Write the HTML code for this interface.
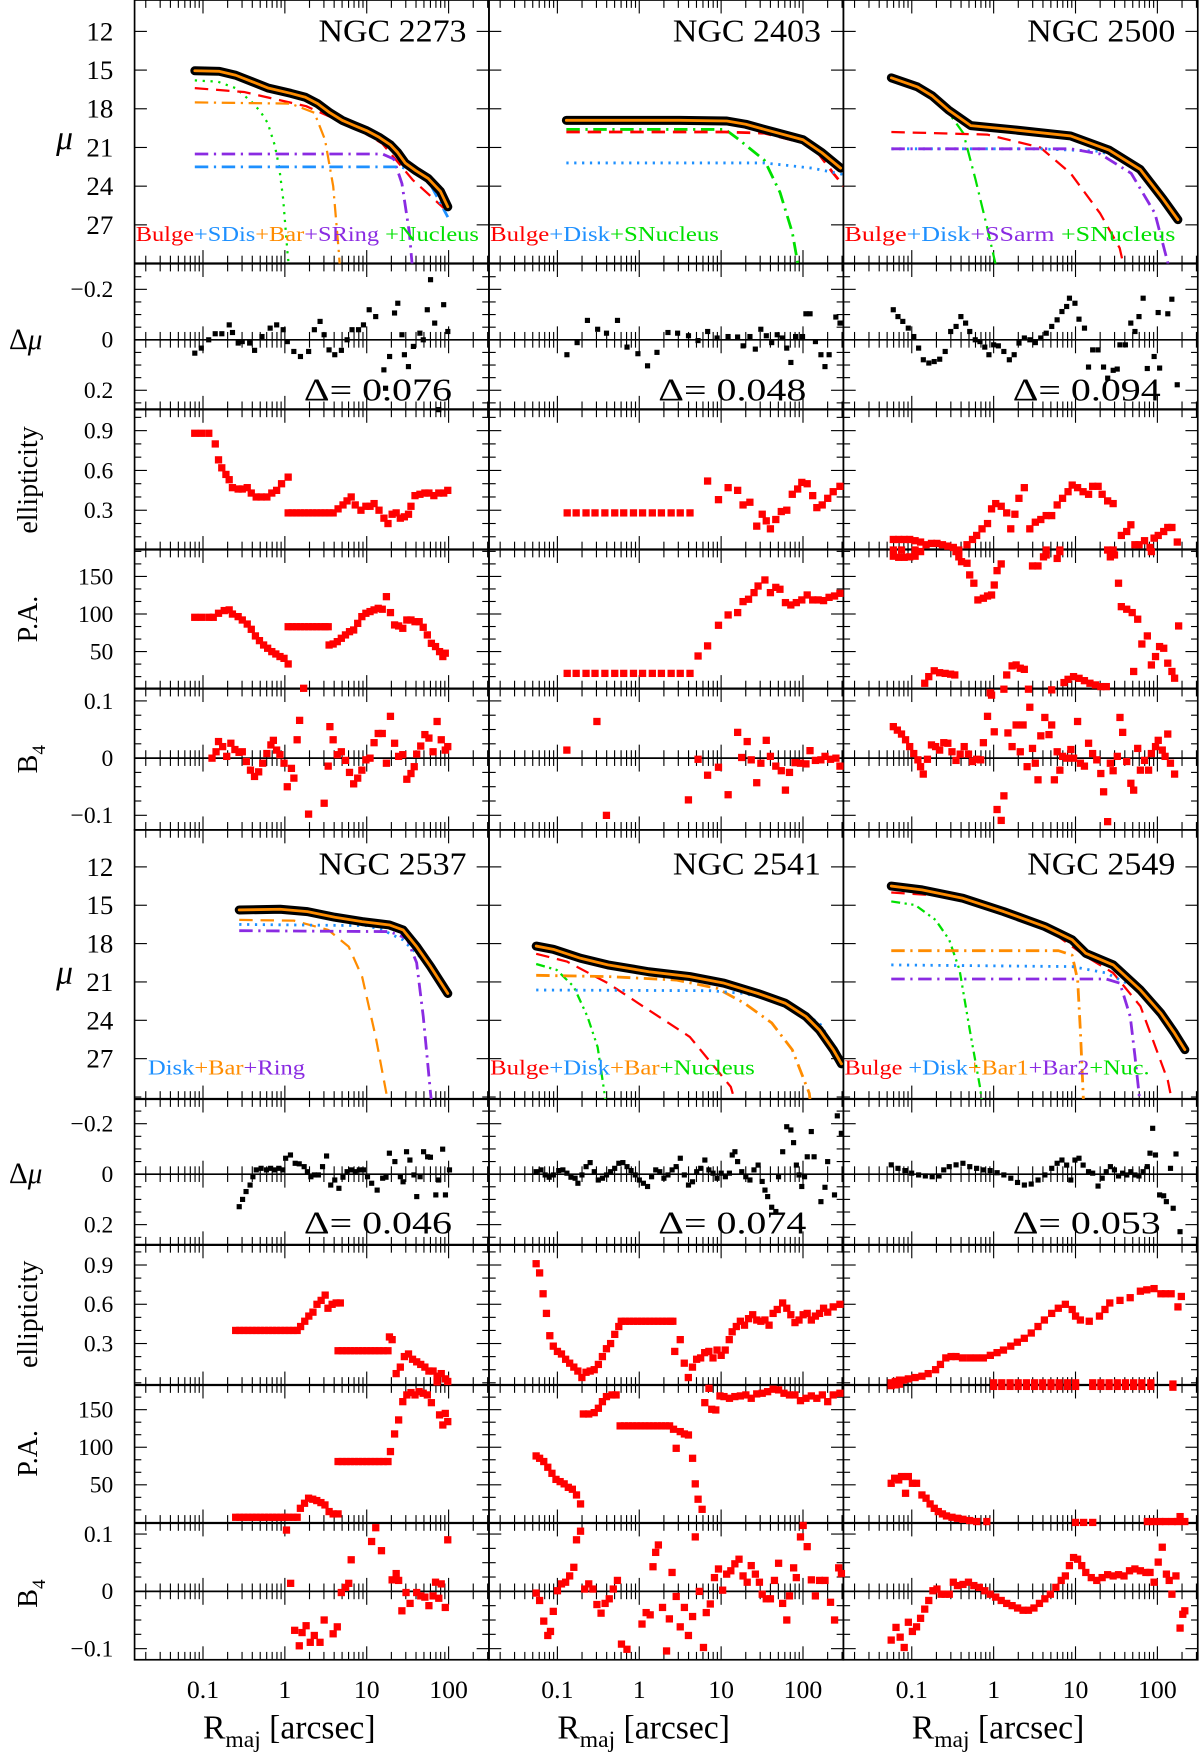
<!DOCTYPE html>
<html><head><meta charset="utf-8"><title>Galaxy surface brightness profiles</title>
<style>
html,body{margin:0;padding:0;background:#fff;}
svg{display:block;}
text{font-family:"Liberation Serif",serif;fill:#000;}
</style></head>
<body>
<svg id="fig" xmlns="http://www.w3.org/2000/svg" width="1200" height="1758" viewBox="0 0 1070 1567.6" preserveAspectRatio="none">
<rect x="0" y="0" width="1070" height="1567.6" fill="#fff"/>
<g id="axes"></g>
<g id="marks"></g>
<g id="labels">
  <text x="50" y="133" font-size="30" font-style="italic">μ</text>
  <text x="50" y="877" font-size="30" font-style="italic">μ</text>
  <text x="8" y="311" font-size="26">Δ<tspan font-style="italic">μ</tspan></text>
  <text x="8" y="1055" font-size="26">Δ<tspan font-style="italic">μ</tspan></text>
  <text transform="translate(33,428) rotate(-90)" text-anchor="middle" font-size="25">ellipticity</text>
  <text transform="translate(33,1172) rotate(-90)" text-anchor="middle" font-size="25">ellipticity</text>
  <text transform="translate(33,552) rotate(-90)" text-anchor="middle" font-size="25">P.A.</text>
  <text transform="translate(33,1296) rotate(-90)" text-anchor="middle" font-size="25">P.A.</text>
  <text transform="translate(33,677) rotate(-90)" text-anchor="middle" font-size="25">B<tspan dy="7" font-size="17">4</tspan></text>
  <text transform="translate(33,1421) rotate(-90)" text-anchor="middle" font-size="25">B<tspan dy="7" font-size="17">4</tspan></text>
  <text x="181" y="1550" font-size="30">R<tspan dy="8" font-size="21">maj</tspan><tspan dy="-8"> [arcsec]</tspan></text>
  <text x="497" y="1550" font-size="30">R<tspan dy="8" font-size="21">maj</tspan><tspan dy="-8"> [arcsec]</tspan></text>
  <text x="813" y="1550" font-size="30">R<tspan dy="8" font-size="21">maj</tspan><tspan dy="-8"> [arcsec]</tspan></text>
</g>
</svg>
<script>
// ---------------- data (logR = log10 R[arcsec]) ----------------
const galaxyNames = ["NGC 2273","NGC 2403","NGC 2500","NGC 2537","NGC 2541","NGC 2549"];
const deltaValues = ["0.076","0.048","0.094","0.046","0.074","0.053"];
const muTicks = [12,15,18,21,24,27];
const dmuTicks = [-0.2,0,0.2];
const ellTicks = [0.9,0.6,0.3];
const paTicks = [150,100,50];
const b4Ticks = [0.1,0,-0.1];
const xTickLabels = ["0.1","1","10","100"];
const xTickValues = [-1,0,1,2];

// surface brightness profiles & components
const prof2273 = [[-1.10,15.05],[-0.8,15.1],[-0.6,15.4],[-0.4,15.9],[-0.2,16.4],[0.07,16.8],[0.25,17.1],[0.4,17.6],[0.55,18.3],[0.7,18.9],[0.85,19.3],[1.0,19.7],[1.15,20.2],[1.29,20.8],[1.38,21.4],[1.47,22.2],[1.6,22.8],[1.75,23.4],[1.9,24.4],[1.99,25.6]];
const nuc2273 = [[-1.10,15.8],[-0.82,15.9],[-0.60,16.4],[-0.40,17.5],[-0.30,18.2],[-0.21,19.1],[-0.125,20.8],[-0.07,22.5],[-0.02,25],[0.03,29],[0.06,31]];
const bulge2273 = [[-1.10,16.4],[-0.5,16.7],[0.26,17.8],[0.90,19.6],[1.19,20.7],[1.56,23.5],[1.94,25.7]];
const bar2273 = [[-1.10,17.5],[0.07,17.6],[0.36,18.3],[0.49,20.4],[0.59,24],[0.66,29.2],[0.68,31]];
const ring2273 = [[-1.10,21.5],[1.19,21.5],[1.33,21.9],[1.43,23.8],[1.52,27.6],[1.56,30.5]];
const disk2273 = [[-1.10,22.5],[1.4,22.5],[1.61,22.8],[1.79,24],[1.99,26.4]];

const prof2403 = [[-0.89,18.9],[0.5,18.9],[1.07,18.95],[1.3,19.2],[1.53,19.6],[2.0,20.4],[2.23,21.4],[2.46,22.6]];
const nuc2403 = [[-0.89,19.6],[1.05,19.6],[1.2,20.3],[1.53,22],[1.72,24.5],[1.87,27.6],[1.95,30.5]];
const bulge2403 = [[-0.89,19.8],[1.05,19.8],[1.53,19.9],[2.11,20.8],[2.37,23],[2.5,24]];
const disk2403 = [[-0.89,22.2],[1.53,22.2],[2.11,22.6],[2.5,23.1]];

const prof2500 = [[-1.25,15.6],[-0.93,16.3],[-0.75,17.0],[-0.55,18.1],[-0.28,19.3],[0.2,19.6],[0.94,20.1],[1.41,21.2],[1.79,22.7],[2.07,25],[2.25,26.6]];
const nuc2500 = [[-1.25,15.7],[-0.93,16.4],[-0.55,18.3],[-0.37,19.9],[-0.22,23.5],[-0.08,27.2],[0.04,30.5]];
const bulge2500 = [[-1.25,19.8],[-0.08,20],[0.57,21],[0.94,23],[1.30,26.1],[1.54,28.8],[1.6,30.5]];
const arm2500 = [[-1.25,21.1],[0.94,21.1],[1.30,21.5],[1.68,23],[1.97,26.1],[2.15,30.5]];
const disk2500 = [[-1.25,21.1],[0.57,21.1],[1.30,21.3],[1.68,22.2],[1.97,23.9],[2.25,26.5]];

const prof2537 = [[-0.558,15.37],[-0.057,15.32],[0.276,15.5],[0.61,15.94],[0.944,16.28],[1.277,16.54],[1.444,16.93],[1.61,18.24],[1.78,19.8],[1.99,21.9]];
const bar2537 = [[-0.558,16.15],[0.11,16.2],[0.53,16.93],[0.78,18.24],[0.944,20.6],[1.11,25.3],[1.24,29.7],[1.26,31]];
const disk2537 = [[-0.558,16.5],[1.0,16.6],[1.19,16.93],[1.44,17.7],[1.69,19.3],[1.99,21.6]];
const ring2537 = [[-0.558,16.99],[1.28,17.06],[1.49,17.6],[1.61,19.5],[1.69,23.7],[1.78,29.7],[1.8,31]];

const prof2541 = [[-1.259,18.19],[-1.05,18.45],[-0.717,19.15],[-0.383,19.67],[0.117,20.2],[0.618,20.58],[1.035,21.1],[1.45,21.9],[1.785,22.67],[2.035,23.7],[2.2,24.75],[2.37,26.3],[2.47,27.4]];
const bulge2541 = [[-1.259,18.8],[-0.884,19.4],[-0.383,21.1],[0.117,23.2],[0.618,25.3],[1.118,29.2],[1.2,31]];
const nuc2541 = [[-1.259,19.6],[-1.008,20.06],[-0.80,21.37],[-0.633,23.7],[-0.508,26.1],[-0.425,29.7],[-0.4,31]];
const bar2541 = [[-1.259,20.48],[-0.383,20.58],[0.451,20.85],[0.951,21.5],[1.285,22.67],[1.618,24.2],[1.869,26.3],[2.077,29.7],[2.1,31]];
const disk2541 = [[-1.259,21.63],[0.868,21.68],[1.285,21.9],[1.785,22.67],[2.2,24.2],[2.45,26.8]];

const prof2549 = [[-1.251,13.5],[-0.876,13.8],[-0.375,14.46],[0.125,15.5],[0.626,16.67],[0.959,17.7],[1.126,18.76],[1.46,19.67],[1.793,21.63],[2.043,23.45],[2.21,25.0],[2.335,26.3]];
const bulge2549 = [[-1.251,14.0],[-0.542,14.3],[0.292,15.9],[0.792,17.46],[1.126,19.0],[1.46,20.3],[1.793,22.9],[2.127,28.7],[2.2,31]];
const nuc2549 = [[-1.251,14.7],[-0.959,14.98],[-0.709,16.15],[-0.542,17.7],[-0.417,20.06],[-0.292,24.75],[-0.167,29.2],[-0.13,31]];
const bar1_2549 = [[-1.251,18.55],[0.792,18.55],[0.959,18.9],[1.026,20.85],[1.059,24.75],[1.093,29.7],[1.1,31]];
const disk2549 = [[-1.251,19.67],[0.959,19.8],[1.376,20.3],[1.71,21.37],[1.96,22.67],[2.21,24.75],[2.335,26]];
const bar2_2549 = [[-1.251,20.77],[1.376,20.77],[1.543,21.1],[1.668,23.7],[1.726,26.8],[1.776,29.7],[1.79,31]];

// residuals Δμ
const dmu2273 = [[-1.10,0.053],[-1.02,0.033],[-0.93,0],[-0.85,-0.024],[-0.77,-0.024],[-0.68,-0.059],[-0.64,-0.029],[-0.57,0.013],[-0.52,0.007],[-0.43,0.013],[-0.37,0.042],[-0.28,-0.013],[-0.18,-0.046],[-0.10,-0.059],[-0.02,-0.040],[0.03,0.007],[0.11,0.046],[0.19,0.066],[0.29,0.046],[0.36,-0.040],[0.43,-0.073],[0.48,-0.020],[0.54,0.040],[0.61,0.059],[0.69,0.042],[0.76,0],[0.82,-0.040],[0.90,-0.040],[0.96,-0.059],[1.03,-0.119],[1.11,-0.092],[1.21,0.119],[1.23,0.192],[1.28,0.066],[1.34,-0.106],[1.38,-0.145],[1.43,-0.020],[1.46,0.059],[1.51,0.106],[1.57,0.026],[1.65,-0.026],[1.69,0],[1.74,-0.119],[1.78,-0.238],[1.83,-0.066],[1.88,0.277],[1.94,-0.139],[1.99,-0.033]];
const dmu2403 = [[-0.884,0.059],[-0.759,0.011],[-0.633,-0.077],[-0.508,-0.042],[-0.400,-0.026],[-0.266,-0.077],[-0.150,0.029],[-0.016,0.055],[0.101,0.103],[0.217,0.050],[0.351,-0.029],[0.468,-0.026],[0.601,-0.016],[0.718,0.003],[0.835,-0.033],[0.951,-0.007],[1.085,-0.013],[1.202,-0.011],[1.268,0.024],[1.352,-0.013],[1.418,0.037],[1.485,-0.042],[1.552,-0.016],[1.618,0.011],[1.685,-0.020],[1.744,-0.007],[1.802,0.033],[1.852,0.090],[1.910,-0.013],[1.994,-0.013],[2.036,-0.103],[2.086,-0.103],[2.152,0.007],[2.219,0.059],[2.269,0.106],[2.319,0.059],[2.402,-0.090],[2.452,-0.066]];
const dmu2500 = [[-1.226,-0.119],[-1.168,-0.092],[-1.109,-0.073],[-1.042,-0.046],[-0.976,-0.013],[-0.917,0.033],[-0.859,0.079],[-0.792,0.092],[-0.726,0.086],[-0.659,0.077],[-0.592,0.046],[-0.525,-0.033],[-0.459,-0.053],[-0.400,-0.092],[-0.342,-0.066],[-0.292,-0.033],[-0.225,0],[-0.167,0.007],[-0.108,0.029],[-0.058,0.059],[0.000,0.020],[0.058,0.024],[0.125,0.046],[0.192,0.079],[0.250,0.059],[0.309,0.013],[0.375,-0.007],[0.442,0],[0.509,0.011],[0.576,-0.007],[0.642,-0.026],[0.709,-0.053],[0.776,-0.079],[0.834,-0.112],[0.892,-0.132],[0.926,-0.165],[0.993,-0.145],[1.043,-0.082],[1.109,-0.046],[1.159,0.108],[1.209,0.040],[1.276,0.040],[1.343,0.108],[1.393,0.152],[1.460,0.121],[1.510,0.116],[1.543,0.020],[1.610,0.020],[1.676,-0.066],[1.726,-0.033],[1.776,-0.092],[1.826,-0.165],[1.877,0.114],[1.960,0.066],[2.010,-0.108],[2.027,0.112],[2.127,-0.103],[2.177,-0.161],[2.243,0.178]];
const dmu2537 = [[-0.558,0.129],[-0.516,0.100],[-0.474,0.069],[-0.424,0.043],[-0.391,0.010],[-0.349,-0.017],[-0.291,-0.023],[-0.224,-0.017],[-0.174,-0.023],[-0.124,-0.017],[-0.074,-0.023],[-0.024,-0.017],[0.010,-0.063],[0.068,-0.076],[0.126,-0.043],[0.176,-0.041],[0.235,-0.030],[0.276,-0.010],[0.318,0.010],[0.360,0.003],[0.410,0.003],[0.460,-0.030],[0.510,-0.072],[0.560,0.043],[0.610,0.023],[0.660,0.056],[0.710,0.012],[0.760,-0.010],[0.810,-0.017],[0.860,-0.010],[0.910,-0.017],[0.960,-0.017],[1.010,0.010],[1.060,0.036],[1.127,0.063],[1.194,0.016],[1.235,0.012],[1.277,-0.083],[1.344,-0.050],[1.411,0.010],[1.444,0.030],[1.486,-0.089],[1.527,-0.056],[1.577,0.003],[1.611,0.089],[1.652,0.010],[1.694,-0.089],[1.744,-0.069],[1.778,-0.067],[1.844,0.082],[1.878,0.023],[1.928,-0.099],[1.961,0.082],[2.011,-0.017]];
const dmu2541 = [[-1.259,-0.010],[-1.200,-0.017],[-1.150,0.003],[-1.100,0.012],[-1.050,0.003],[-0.983,-0.014],[-0.933,-0.017],[-0.884,-0.004],[-0.834,0.012],[-0.783,0.016],[-0.750,0.036],[-0.700,0.003],[-0.650,-0.030],[-0.600,-0.046],[-0.550,-0.010],[-0.500,0.023],[-0.450,0.016],[-0.400,0.003],[-0.350,-0.010],[-0.300,-0.023],[-0.250,-0.043],[-0.200,-0.046],[-0.150,-0.030],[-0.100,-0.014],[-0.049,0.003],[0.001,0.023],[0.051,0.036],[0.101,0.049],[0.151,0.010],[0.201,-0.017],[0.251,-0.010],[0.301,0.016],[0.351,0.003],[0.401,-0.017],[0.451,-0.030],[0.501,-0.063],[0.551,0.003],[0.601,0.043],[0.651,0.030],[0.701,-0.010],[0.751,-0.023],[0.801,-0.056],[0.851,-0.017],[0.901,-0.004],[0.951,0.016],[1.001,-0.004],[1.052,0.010],[1.102,-0.004],[1.135,-0.076],[1.168,-0.089],[1.202,-0.050],[1.252,-0.010],[1.302,0.010],[1.352,0.023],[1.402,-0.017],[1.452,-0.036],[1.502,0.029],[1.535,0.063],[1.568,0.089],[1.618,0.131],[1.668,0.148],[1.702,0.010],[1.752,-0.089],[1.802,-0.188],[1.852,-0.175],[1.885,-0.125],[1.919,-0.036],[1.952,0.003],[1.985,0.049],[2.019,0.010],[2.052,-0.069],[2.102,-0.169],[2.136,-0.069],[2.219,0.109],[2.269,0.052],[2.302,-0.050],[2.385,0.082],[2.419,-0.231],[2.469,-0.162]];
const dmu2549 = [[-1.251,-0.037],[-1.168,-0.023],[-1.084,-0.014],[-1.001,-0.004],[-0.917,0.003],[-0.834,0.007],[-0.751,0.010],[-0.667,0.007],[-0.609,-0.017],[-0.542,-0.030],[-0.459,-0.037],[-0.375,-0.043],[-0.292,-0.030],[-0.208,-0.023],[-0.125,-0.017],[-0.042,-0.014],[0.042,-0.006],[0.125,0.003],[0.209,0.016],[0.292,0.033],[0.375,0.043],[0.459,0.039],[0.542,0.023],[0.626,0.003],[0.709,-0.023],[0.776,-0.043],[0.834,-0.056],[0.892,-0.036],[0.943,0.023],[0.993,-0.056],[1.043,-0.063],[1.093,-0.036],[1.159,-0.010],[1.209,-0.004],[1.276,0.047],[1.326,0.016],[1.376,-0.010],[1.426,-0.030],[1.476,-0.017],[1.526,0.007],[1.576,-0.004],[1.626,0.003],[1.676,-0.010],[1.726,0.003],[1.776,0.007],[1.826,-0.010],[1.877,-0.030],[1.910,-0.083],[1.943,-0.182],[1.977,-0.076],[2.027,0.082],[2.077,0.086],[2.110,0.109],[2.160,-0.023],[2.193,0.135],[2.227,-0.080],[2.277,0.228]];

// ellipticity
const ell2273 = [[-1.10,0.88],[-1.02,0.88],[-0.93,0.88],[-0.85,0.80],[-0.81,0.68],[-0.77,0.62],[-0.72,0.57],[-0.68,0.53],[-0.64,0.47],[-0.57,0.46],[-0.52,0.46],[-0.46,0.47],[-0.41,0.43],[-0.35,0.40],[-0.29,0.40],[-0.22,0.40],[-0.16,0.43],[-0.10,0.45],[-0.04,0.50],[0.04,0.55],[0.04,0.28],[0.09,0.28],[0.14,0.28],[0.19,0.28],[0.24,0.28],[0.29,0.28],[0.34,0.28],[0.39,0.28],[0.44,0.28],[0.49,0.28],[0.54,0.28],[0.59,0.28],[0.65,0.31],[0.71,0.34],[0.76,0.37],[0.81,0.40],[0.86,0.34],[0.93,0.30],[0.99,0.33],[1.04,0.33],[1.09,0.35],[1.15,0.30],[1.21,0.24],[1.26,0.20],[1.31,0.27],[1.36,0.28],[1.41,0.24],[1.46,0.25],[1.51,0.27],[1.54,0.33],[1.59,0.41],[1.65,0.42],[1.71,0.43],[1.76,0.43],[1.82,0.41],[1.88,0.43],[1.94,0.43],[1.99,0.45]];
const ell2403 = [[-0.88,0.28],[-0.77,0.28],[-0.65,0.28],[-0.54,0.28],[-0.42,0.28],[-0.30,0.28],[-0.19,0.28],[-0.07,0.28],[0.04,0.28],[0.16,0.28],[0.27,0.28],[0.39,0.28],[0.50,0.28],[0.62,0.28],[0.835,0.52],[0.968,0.38],[1.085,0.47],[1.202,0.45],[1.268,0.34],[1.352,0.36],[1.435,0.18],[1.502,0.27],[1.552,0.22],[1.602,0.16],[1.668,0.23],[1.735,0.29],[1.802,0.30],[1.869,0.42],[1.935,0.46],[1.985,0.51],[2.052,0.50],[2.119,0.41],[2.169,0.32],[2.235,0.34],[2.302,0.39],[2.369,0.44],[2.452,0.48]];
const ell2500 = [[-1.226,0.08],[-1.159,0.08],[-1.093,0.08],[-1.026,0.08],[-0.959,0.07],[-0.892,0.06],[-0.826,0.04],[-0.759,0.05],[-0.692,0.05],[-0.625,0.04],[-0.559,0.03],[-0.492,0.02],[-0.425,0.00],[-0.325,0.04],[-0.258,0.08],[-0.208,0.11],[-0.142,0.16],[-0.075,0.20],[-0.025,0.31],[0.025,0.35],[0.092,0.33],[0.159,0.28],[0.209,0.16],[0.259,0.27],[0.309,0.39],[0.375,0.47],[0.442,0.16],[0.509,0.21],[0.576,0.23],[0.642,0.26],[0.709,0.26],[0.776,0.34],[0.842,0.39],[0.909,0.44],[0.959,0.49],[1.026,0.47],[1.093,0.44],[1.159,0.42],[1.209,0.48],[1.276,0.48],[1.326,0.42],[1.393,0.37],[1.460,0.35],[1.560,0.11],[1.626,0.14],[1.676,0.19],[1.726,0.04],[1.776,0.04],[1.843,0.07],[1.910,0.02],[1.960,0.09],[2.010,0.11],[2.077,0.14],[2.127,0.17],[2.177,0.17],[2.243,0.06],[-1.226,0.0],[-1.126,0.0],[-0.959,0.0],[0.642,0.0],[0.809,0.0],[1.393,0.0],[1.460,0.0]];
const ell2537 = [[-0.60,0.40],[-0.55,0.40],[-0.50,0.40],[-0.45,0.40],[-0.40,0.40],[-0.35,0.40],[-0.30,0.40],[-0.25,0.40],[-0.20,0.40],[-0.15,0.40],[-0.10,0.40],[-0.05,0.40],[0.0,0.40],[0.05,0.40],[0.10,0.40],[0.15,0.40],[0.192,0.43],[0.243,0.47],[0.293,0.51],[0.343,0.54],[0.393,0.60],[0.443,0.63],[0.493,0.67],[0.527,0.57],[0.577,0.60],[0.627,0.61],[0.677,0.61],[0.65,0.245],[0.70,0.245],[0.75,0.245],[0.80,0.245],[0.85,0.245],[0.90,0.245],[0.95,0.245],[1.00,0.245],[1.05,0.245],[1.10,0.245],[1.15,0.245],[1.20,0.245],[1.26,0.245],[1.277,0.35],[1.31,0.33],[1.36,0.07],[1.41,0.12],[1.46,0.20],[1.51,0.22],[1.56,0.18],[1.61,0.16],[1.66,0.14],[1.71,0.12],[1.76,0.09],[1.81,0.09],[1.86,0.05],[1.91,0.07],[1.96,0.03],[1.99,0.01]];
const ell2541 = [[-1.259,0.91],[-1.217,0.84],[-1.175,0.68],[-1.133,0.53],[-1.092,0.36],[-1.05,0.28],[-1.0,0.24],[-0.95,0.22],[-0.9,0.18],[-0.85,0.15],[-0.80,0.12],[-0.75,0.09],[-0.70,0.04],[-0.65,0.08],[-0.60,0.09],[-0.55,0.10],[-0.50,0.14],[-0.45,0.20],[-0.40,0.26],[-0.35,0.30],[-0.30,0.37],[-0.25,0.43],[-0.22,0.47],[-0.17,0.47],[-0.12,0.47],[-0.07,0.47],[-0.02,0.47],[0.03,0.47],[0.08,0.47],[0.13,0.47],[0.18,0.47],[0.23,0.47],[0.28,0.47],[0.33,0.47],[0.38,0.47],[0.41,0.47],[0.434,0.24],[0.50,0.33],[0.55,0.15],[0.60,0.04],[0.65,0.12],[0.70,0.18],[0.75,0.19],[0.80,0.23],[0.85,0.24],[0.90,0.19],[0.95,0.25],[1.0,0.21],[1.05,0.25],[1.10,0.33],[1.135,0.39],[1.185,0.43],[1.235,0.47],[1.285,0.44],[1.335,0.49],[1.385,0.52],[1.435,0.48],[1.485,0.47],[1.535,0.48],[1.585,0.44],[1.635,0.53],[1.685,0.56],[1.752,0.61],[1.802,0.57],[1.852,0.52],[1.902,0.46],[1.952,0.48],[2.002,0.52],[2.052,0.53],[2.102,0.48],[2.152,0.51],[2.202,0.53],[2.252,0.57],[2.302,0.54],[2.369,0.58],[2.452,0.60]];
const ell2549 = [[-1.251,0.0],[-1.2,0.01],[-1.15,0.02],[-1.1,0.02],[-1.042,0.03],[-0.96,0.04],[-0.876,0.05],[-0.8,0.07],[-0.709,0.10],[-0.65,0.14],[-0.584,0.19],[-0.52,0.20],[-0.459,0.20],[-0.38,0.19],[-0.292,0.19],[-0.21,0.19],[-0.125,0.19],[-0.04,0.21],[0.042,0.23],[0.12,0.25],[0.209,0.28],[0.29,0.31],[0.375,0.34],[0.46,0.38],[0.542,0.43],[0.62,0.48],[0.709,0.53],[0.79,0.57],[0.876,0.60],[0.959,0.56],[1.0,0.51],[1.059,0.48],[1.168,0.47],[1.293,0.51],[1.36,0.56],[1.418,0.61],[1.543,0.63],[1.668,0.65],[1.793,0.70],[1.87,0.71],[1.96,0.72],[2.043,0.68],[2.1,0.68],[2.168,0.68],[2.252,0.58],[2.293,0.66],[0.0,0.0],[0.1,0.0],[0.2,0.0],[0.3,0.0],[0.4,0.0],[0.5,0.0],[0.6,0.0],[0.7,0.0],[0.8,0.0],[0.9,0.0],[1.0,0.0],[1.21,0.0],[1.31,0.0],[1.41,0.0],[1.51,0.0],[1.61,0.0],[1.71,0.0],[1.81,0.0],[1.92,0.0],[2.19,-0.01]];

// position angle
const pa2273 = [[-1.10,95.6],[-1.02,95.6],[-0.93,95.6],[-0.875,95.6],[-0.81,101],[-0.74,104.5],[-0.68,105.4],[-0.64,100],[-0.57,96.5],[-0.52,92],[-0.46,86.7],[-0.41,79.6],[-0.36,70.8],[-0.31,64.6],[-0.26,58.8],[-0.21,54.4],[-0.16,50],[-0.11,46.8],[-0.06,43.3],[-0.01,41],[0.04,33.5],[0.23,1.1],[0.04,83],[0.09,83],[0.14,83],[0.19,83],[0.24,83],[0.29,83],[0.34,83],[0.39,83],[0.44,83],[0.49,83],[0.53,83],[0.54,58.8],[0.59,60.1],[0.64,63.2],[0.69,67.7],[0.74,72.1],[0.79,76.5],[0.84,78.8],[0.89,87.6],[0.94,96.5],[0.99,101],[1.04,103.2],[1.09,105.4],[1.14,107.6],[1.19,106.3],[1.24,123.1],[1.29,101.8],[1.34,85.4],[1.39,84.1],[1.44,81],[1.49,92],[1.54,92],[1.59,89.8],[1.64,89.8],[1.69,82.3],[1.74,72.1],[1.79,61],[1.84,56.6],[1.89,50],[1.93,43.3],[1.96,47.9]];
const pa2403 = [[-0.88,21],[-0.77,21],[-0.65,21],[-0.54,21],[-0.42,21],[-0.30,21],[-0.19,21],[-0.07,21],[0.04,21],[0.16,21],[0.27,21],[0.39,21],[0.50,21],[0.62,21],[0.718,44.1],[0.835,57.5],[0.968,85],[1.085,98.7],[1.202,101.8],[1.268,116.5],[1.335,119.6],[1.402,128.4],[1.452,137.3],[1.535,145.3],[1.602,128.4],[1.668,135.5],[1.718,132.9],[1.785,115.1],[1.852,112],[1.919,115.1],[1.985,118.7],[2.052,125.3],[2.119,118.7],[2.185,118.7],[2.252,117.8],[2.319,122.2],[2.385,124],[2.452,127.6]];
const pa2500 = [[-1.226,177],[-1.159,175.5],[-1.093,175.5],[-1.026,176],[-0.959,177],[-0.892,183],[-0.842,7.8],[-0.792,16.6],[-0.726,24.4],[-0.659,21.8],[-0.592,20.9],[-0.525,20],[-0.475,18.9],[-0.459,183],[-0.425,176],[-0.392,169.7],[-0.325,167.5],[-0.292,152],[-0.242,141],[-0.192,118.7],[-0.125,121],[-0.075,124],[-0.025,125.3],[0.008,138.6],[0.042,157.7],[0.092,166.6],[-0.042,-5],[0.125,0],[0.159,18.9],[0.225,30.9],[0.275,32.2],[0.325,27.8],[0.375,26.4],[0.425,0],[0.475,164],[0.542,164],[0.609,176],[0.642,178.6],[0.709,-1],[0.776,174],[0.809,183],[0.859,8.7],[0.909,13.1],[0.976,16.6],[1.043,14.4],[1.109,11.3],[1.176,7.8],[1.243,5.6],[1.309,3.4],[1.376,3.4],[1.426,176],[1.476,178.6],[1.526,141],[1.560,109.8],[1.626,106.3],[1.693,101.8],[1.760,93],[1.810,60],[1.877,70.8],[1.710,23.5],[1.927,32.2],[1.977,43.3],[2.027,56.6],[2.077,54.4],[2.127,34.6],[2.177,23.5],[2.210,14.5],[2.260,84.1],[1.927,183]];
const pa2537 = [[-0.60,6.8],[-0.55,6.8],[-0.50,6.8],[-0.45,6.8],[-0.40,6.8],[-0.35,6.8],[-0.30,6.8],[-0.25,6.8],[-0.20,6.8],[-0.15,6.8],[-0.10,6.8],[-0.05,6.8],[0.0,6.8],[0.05,6.8],[0.10,6.8],[0.15,6.8],[0.19,18.8],[0.24,25.5],[0.29,32.1],[0.34,30.8],[0.39,29],[0.44,26.3],[0.49,23.2],[0.54,14.4],[0.59,11.2],[0.65,11.2],[0.65,80.9],[0.70,80.9],[0.75,80.9],[0.80,80.9],[0.85,80.9],[0.90,80.9],[0.95,80.9],[1.00,80.9],[1.05,80.9],[1.10,80.9],[1.15,80.9],[1.20,80.9],[1.26,80.9],[1.29,94.2],[1.34,117.7],[1.39,136.3],[1.44,160.7],[1.49,169.6],[1.54,172.7],[1.59,169.6],[1.64,174],[1.69,171.8],[1.74,169.6],[1.79,159.4],[1.89,143],[1.93,129.6],[1.96,145],[1.99,134.1],[1.86,187]];
const pa2541 = [[-1.259,88.4],[-1.217,85.3],[-1.167,80.9],[-1.117,73.3],[-1.067,65.3],[-1.017,57.3],[-0.967,54.3],[-0.917,51.2],[-0.867,46.7],[-0.817,44.1],[-0.767,36.5],[-0.717,24.5],[-0.683,144.3],[-0.617,144.3],[-0.55,146.1],[-0.50,151.9],[-0.45,160.7],[-0.40,167.4],[-0.333,169.6],[-0.283,169.6],[-0.233,128.4],[-0.18,128.4],[-0.13,128.4],[-0.08,128.4],[-0.03,128.4],[0.02,128.4],[0.07,128.4],[0.12,128.4],[0.17,128.4],[0.22,128.4],[0.27,128.4],[0.32,128.4],[0.37,128.4],[0.418,123.9],[0.451,98.6],[0.501,120.8],[0.551,117.7],[0.601,116.4],[0.651,85.3],[0.684,51.2],[0.718,30.8],[0.768,17.4],[0.801,159.4],[0.851,178.5],[0.885,150.5],[0.935,149.7],[0.985,168.3],[1.035,167.4],[1.102,165.2],[1.168,167.4],[1.235,168.3],[1.302,169.6],[1.368,165.2],[1.435,171],[1.502,171.8],[1.568,174],[1.635,177.2],[1.702,176.3],[1.768,171.8],[1.835,169.6],[1.902,169.6],[1.969,162],[2.036,165.2],[2.102,168.3],[2.169,165.2],[2.236,169.6],[2.302,160.7],[2.369,169.6],[2.452,171.8]];
const pa2549 = [[-1.251,52],[-1.209,58.7],[-1.159,56.5],[-1.126,60.9],[-1.076,38.7],[-1.042,60.9],[-0.992,52],[-0.942,52],[-0.876,36.5],[-0.826,32.1],[-0.776,24.5],[-0.726,18.8],[-0.676,14.4],[-0.626,11.2],[-0.576,8.6],[-0.509,6.8],[-0.442,5.5],[-0.375,4.1],[-0.292,2.4],[-0.208,1.1],[-0.083,1.1],[1.0,0],[1.1,0],[1.21,0],[1.877,1.1],[1.95,1.1],[2.03,1.1],[2.1,1.1],[2.18,1.1],[2.25,1.1],[2.335,1.1],[2.277,7.7],[-1.251,182],[-1.2,183],[-1.15,184],[0.0,181],[0.1,181],[0.2,181],[0.3,181],[0.4,181],[0.5,181],[0.6,181],[0.7,181],[0.8,181],[0.9,181],[1.0,181],[1.21,181],[1.31,181],[1.41,181],[1.51,181],[1.61,181],[1.71,181],[1.81,181],[1.92,181],[2.19,180]];

// B4
const b42273 = [[-0.89,0],[-0.84,0.011],[-0.81,0.029],[-0.76,0.020],[-0.71,0.003],[-0.66,0.026],[-0.61,0.015],[-0.56,0.010],[-0.52,0.011],[-0.47,-0.006],[-0.42,-0.021],[-0.37,-0.032],[-0.32,-0.024],[-0.27,-0.009],[-0.22,0.008],[-0.17,0.023],[-0.14,0.031],[-0.10,0.014],[-0.06,0.006],[-0.01,-0.009],[0.03,-0.050],[0.08,-0.018],[0.11,-0.035],[0.15,0.032],[0.18,0.066],[0.29,-0.098],[0.48,-0.079],[0.53,-0.014],[0.55,0.055],[0.59,0.032],[0.64,0.006],[0.69,0.011],[0.74,-0.004],[0.79,-0.025],[0.84,-0.045],[0.89,-0.035],[0.94,-0.021],[0.99,-0.003],[1.04,0],[1.09,0.027],[1.14,0.043],[1.19,0.043],[1.24,-0.009],[1.29,0.073],[1.34,0.026],[1.39,0.003],[1.44,0.006],[1.49,-0.037],[1.54,-0.027],[1.58,-0.015],[1.61,0.007],[1.66,0.021],[1.71,0.041],[1.76,0.035],[1.81,0.011],[1.86,0.064],[1.91,0.032],[1.96,0.014],[1.99,0.020]];
const b42403 = [[-0.884,0.014],[-0.517,0.064],[-0.400,-0.10],[0.601,-0.073],[0.718,-0.002],[0.835,-0.030],[0.968,-0.016],[1.085,-0.064],[1.202,0.045],[1.252,0.001],[1.318,0.029],[1.368,-0.003],[1.435,-0.043],[1.485,-0.009],[1.552,0.031],[1.602,0.003],[1.668,-0.014],[1.735,-0.022],[1.785,-0.056],[1.835,-0.025],[1.902,-0.008],[1.969,-0.009],[2.036,-0.010],[2.086,0.013],[2.152,-0.004],[2.219,-0.003],[2.269,0.003],[2.336,-0.002],[2.402,0],[2.452,-0.014]];
const b42500 = [[-1.226,0.055],[-1.176,0.049],[-1.126,0.042],[-1.076,0.032],[-1.026,0.020],[-0.976,0.008],[-0.926,-0.003],[-0.892,-0.015],[-0.859,-0.028],[-0.809,-0.002],[-0.759,0.023],[-0.709,0.020],[-0.659,0.014],[-0.609,0.027],[-0.559,0.026],[-0.509,0.011],[-0.459,-0.004],[-0.409,0.007],[-0.359,0.020],[-0.308,0.007],[-0.258,-0.006],[-0.208,-0.002],[-0.158,-0.003],[-0.125,0.027],[-0.075,0.073],[-0.025,0.110],[0.008,0.046],[0.042,-0.09],[0.092,-0.109],[0.125,-0.066],[0.175,0.044],[0.225,0.020],[0.275,0.058],[0.325,0.011],[0.359,0.058],[0.409,-0.015],[0.442,0.089],[0.475,0.017],[0.509,-0.009],[0.542,-0.038],[0.576,0.039],[0.626,0.071],[0.676,0.041],[0.709,0.058],[0.742,-0.038],[0.776,0.011],[0.809,-0.021],[0.842,0.003],[0.892,0],[0.943,0.015],[0.976,0],[1.026,0.064],[1.059,-0.009],[1.109,-0.014],[1.159,0.026],[1.209,0.008],[1.259,-0.003],[1.309,-0.027],[1.343,-0.059],[1.393,-0.111],[1.426,-0.009],[1.460,-0.022],[1.510,0.003],[1.543,0.071],[1.576,0.045],[1.626,-0.006],[1.676,-0.044],[1.710,-0.056],[1.760,0.017],[1.793,-0.021],[1.843,-0.004],[1.893,-0.021],[1.927,0.008],[1.977,0.020],[2.010,0.031],[2.060,0.014],[2.094,0.003],[2.127,0.042],[2.160,-0.009],[2.210,-0.028]];
const b42537 = [[0.02,0.107],[0.07,0.014],[0.12,-0.068],[0.176,-0.095],[0.21,-0.072],[0.26,-0.060],[0.31,-0.089],[0.36,-0.077],[0.43,-0.089],[0.48,-0.050],[0.59,-0.074],[0.64,-0.062],[0.69,-0.002],[0.74,0.007],[0.78,0.014],[0.81,0.055],[1.06,0.087],[1.11,0.111],[1.18,0.071],[1.31,0.020],[1.36,0.031],[1.39,0.019],[1.43,-0.034],[1.48,-0.002],[1.53,-0.021],[1.61,-0.002],[1.66,-0.008],[1.71,-0.010],[1.76,-0.025],[1.81,-0.008],[1.84,0.016],[1.88,-0.012],[1.91,0.013],[1.96,-0.028],[1.99,0.090]];
const b42541 = [[-1.259,-0.003],[-1.217,-0.016],[-1.167,-0.052],[-1.117,-0.077],[-1.084,-0.070],[-1.05,-0.035],[-1.0,0.001],[-0.95,0.013],[-0.90,0.016],[-0.85,0.027],[-0.80,0.042],[-0.767,0.090],[-0.717,0.105],[-0.667,0.004],[-0.617,0.013],[-0.567,0.004],[-0.517,-0.023],[-0.467,-0.038],[-0.417,-0.021],[-0.367,-0.013],[-0.317,0.004],[-0.267,0.019],[-0.217,-0.092],[-0.15,-0.101],[0.034,-0.057],[0.084,-0.037],[0.134,-0.041],[0.168,0.043],[0.201,0.068],[0.234,0.081],[0.284,-0.028],[0.334,-0.104],[0.368,-0.048],[0.401,0.033],[0.451,-0.009],[0.501,-0.062],[0.551,-0.028],[0.601,-0.077],[0.651,-0.044],[0.684,0.095],[0.734,0],[0.784,-0.098],[0.818,-0.037],[0.868,-0.022],[0.918,0.024],[0.968,0.039],[1.018,0.002],[1.068,0.030],[1.118,0.036],[1.168,0.048],[1.218,0.056],[1.268,0.027],[1.318,0.016],[1.368,0.045],[1.418,0.030],[1.468,0.016],[1.502,-0.005],[1.552,-0.013],[1.602,-0.013],[1.652,0.019],[1.702,0.049],[1.752,-0.021],[1.802,-0.050],[1.835,-0.008],[1.885,0.041],[1.919,0.024],[1.969,0.095],[2.002,0.115],[2.052,0.078],[2.102,0.020],[2.152,-0.008],[2.202,0.019],[2.269,0.019],[2.336,-0.019],[2.386,-0.050],[2.436,0.041],[2.469,0.031]];
const b42549 = [[-1.251,-0.085],[-1.193,-0.063],[-1.142,-0.080],[-1.092,-0.098],[-1.042,-0.054],[-0.992,-0.070],[-0.942,-0.062],[-0.892,-0.047],[-0.842,-0.031],[-0.792,-0.016],[-0.742,0.001],[-0.692,0.004],[-0.642,-0.005],[-0.592,-0.005],[-0.542,-0.005],[-0.492,0.016],[-0.442,0.010],[-0.375,0.012],[-0.308,0.016],[-0.242,0.010],[-0.175,0.007],[-0.108,0.001],[-0.042,-0.005],[0.025,-0.010],[0.092,-0.016],[0.159,-0.021],[0.225,-0.025],[0.292,-0.029],[0.359,-0.033],[0.425,-0.033],[0.492,-0.029],[0.559,-0.021],[0.626,-0.013],[0.692,-0.005],[0.759,0.007],[0.826,0.019],[0.876,0.027],[0.926,0.045],[0.976,0.059],[1.026,0.056],[1.076,0.045],[1.126,0.033],[1.193,0.024],[1.259,0.019],[1.326,0.024],[1.393,0.029],[1.460,0.027],[1.526,0.029],[1.593,0.027],[1.660,0.036],[1.726,0.039],[1.793,0.036],[1.860,0.033],[1.910,0.033],[1.96,0.016],[2.01,0.051],[2.06,0.077],[2.11,0.030],[2.144,0.019],[2.177,-0.005],[2.227,0.027],[2.277,-0.064],[2.31,-0.040],[2.335,-0.034]];

// ---------------- layout ----------------
const NS = "http://www.w3.org/2000/svg";
const COLS = [120,436,752], COLW = 316;
const EDGES = [[0,235,365,490,614,740],[740,980,1110,1235,1358,1480]];
const axesG = document.getElementById('axes');
const marksG = document.getElementById('marks');
const labelsG = document.getElementById('labels');
const C = {red:"#ff0000",blue:"#1e90ff",orange:"#ff8c00",purple:"#8a2be2",green:"#00e000"};

function X(c, lr){ return COLS[c] + 61 + 73*(lr+1); }
function muY(g,v){ return g ? 773+(v-12)*11.4 : 28+(v-12)*11.5; }
function dmuY(g,v){ return (g?1047:303) + v*225; }
function ellY(g,v){ return (g?1128:384) + (0.9-v)*(g?116.7:118.3); }
function paY(g,v){ return (g?1257:514) + (150-v)*0.67; }
function b4Y(g,v){ return (g?1419:676) - v*(g?511:510); }

function mk(tag, parent, name, inter){
  const e = document.createElementNS(NS, tag);
  
  
  parent.appendChild(e);
  return e;
}
function line(parent,x1,y1,x2,y2,w,name){
  const l = mk('line', parent, name, false);
  l.setAttribute('x1',x1); l.setAttribute('y1',y1); l.setAttribute('x2',x2); l.setAttribute('y2',y2);
  l.setAttribute('stroke','#000'); l.setAttribute('stroke-width',w);
  return l;
}
function txt(parent,x,y,s,size,anchor,name){
  const t = mk('text', parent, name, false);
  t.setAttribute('x',x); t.setAttribute('y',y); t.setAttribute('font-size',size);
  if(anchor) t.setAttribute('text-anchor',anchor);
  t.textContent = s;
  return t;
}

const defs = document.createElementNS(NS,'defs');
document.getElementById('fig').insertBefore(defs, axesG);
function clipId(g,c,r){ return 'cl'+g+c+r; }
for(let g=0;g<2;g++) for(let c=0;c<3;c++) for(let r=0;r<5;r++){
  const cp = document.createElementNS(NS,'clipPath'); cp.setAttribute('id',clipId(g,c,r));
  const rc = document.createElementNS(NS,'rect');
  rc.setAttribute('x',COLS[c]); rc.setAttribute('y',EDGES[g][r]); rc.setAttribute('width',COLW); rc.setAttribute('height',EDGES[g][r+1]-EDGES[g][r]);
  cp.appendChild(rc); defs.appendChild(cp);
}

function logTicks(c, y, dir, both){
  for(let d=-2; d<=2; d++){
    for(let m=1; m<=9; m++){
      const lr = d + Math.log10(m);
      const x = X(c, lr);
      if(x < COLS[c]+1 || x > COLS[c]+COLW-1) continue;
      const len = m===1 ? 12 : 7;
      if(both){ line(axesG,x,y-len,x,y+len,1,'x-log-tick'); }
      else { line(axesG,x,y,x,y+dir*len,1,'x-log-tick'); }
    }
  }
}
function yTicks(c, y0, y1, majorVals, minorStep, fy, g){
  const lo = Math.min(y0,y1), hi = Math.max(y0,y1);
  const xl = COLS[c], xr = COLS[c]+COLW;
  const start = majorVals.length ? majorVals[0] : 0;
  for(let k=-60;k<=60;k++){
    const v = start + k*minorStep;
    const y = fy(g,v);
    if(y<=lo+1 || y>=hi-1) continue;
    const isMajor = majorVals.some(m=>Math.abs(m-v)<1e-6);
    const len = isMajor ? 11 : 6;
    line(axesG,xl,y,xl+len,y,1,isMajor?'y-major-tick':'y-minor-tick');
    line(axesG,xr,y,xr-len,y,1,isMajor?'y-major-tick':'y-minor-tick');
  }
}

for(let g=0; g<2; g++){
  for(let c=0; c<3; c++){
    const E = EDGES[g];
    const fr = mk('rect', axesG, 'panel-frame', false);
    fr.setAttribute('x',COLS[c]); fr.setAttribute('y',E[0]); fr.setAttribute('width',COLW); fr.setAttribute('height',E[5]-E[0]);
    fr.setAttribute('fill','none'); fr.setAttribute('stroke','#000'); fr.setAttribute('stroke-width',1.5);
    for(let r=1;r<5;r++){ line(axesG,COLS[c],E[r],COLS[c]+COLW,E[r],2,'panel-divider'); }
    for(let r=0;r<5;r++){ logTicks(c,E[r],1,false); logTicks(c,E[r+1],-1,false); }
    line(axesG,COLS[c],dmuY(g,0),COLS[c]+COLW,dmuY(g,0),1.5,'dmu-zero-line'); logTicks(c,dmuY(g,0),0,true);
    line(axesG,COLS[c],b4Y(g,0),COLS[c]+COLW,b4Y(g,0),1.5,'b4-zero-line'); logTicks(c,b4Y(g,0),0,true);
    yTicks(c,E[0],E[1],muTicks,3,muY,g);
    yTicks(c,E[1],E[2],dmuTicks,0.05,dmuY,g);
    yTicks(c,E[2],E[3],ellTicks,0.1,ellY,g);
    yTicks(c,E[3],E[4],paTicks,50/3,paY,g);
    yTicks(c,E[4],E[5],b4Ticks,0.025,b4Y,g);
  }
  muTicks.forEach(v=>txt(labelsG,101,muY(g,v)+8,String(v),24,'end','mu-tick-label'));
  dmuTicks.forEach(v=>txt(labelsG,101,dmuY(g,v)+7,v<0?'\u22120.2':(v===0?'0':'0.2'),21,'end','dmu-tick-label'));
  ellTicks.forEach(v=>txt(labelsG,101,ellY(g,v)+7,v.toFixed(1),21,'end','ellipticity-tick-label'));
  paTicks.forEach(v=>txt(labelsG,101,paY(g,v)+7,String(v),21,'end','pa-tick-label'));
  b4Ticks.forEach(v=>txt(labelsG,101,b4Y(g,v)+7,v<0?'\u22120.1':(v===0?'0':'0.1'),21,'end','b4-tick-label'));
}
for(let c=0;c<3;c++){
  xTickValues.forEach((lv,i)=>txt(labelsG,X(c,lv),1514,xTickLabels[i],23,'middle','x-tick-label'));
}

// ---------------- marks ----------------
function polyline(g,c,data,color,width,dash,name){
  const p = mk('polyline', marksG, name, false);
  p.setAttribute('points', data.map(d=>X(c,d[0]).toFixed(1)+','+muY(g,d[1]).toFixed(1)).join(' '));
  p.setAttribute('fill','none'); p.setAttribute('stroke',color); p.setAttribute('stroke-width',width);
  p.setAttribute('stroke-linejoin','round'); p.setAttribute('stroke-linecap', dash ? 'butt' : 'round');
  if(dash) p.setAttribute('stroke-dasharray',dash);
  p.setAttribute('clip-path','url(#'+clipId(g,c,0)+')');
  return p;
}
function profile(g,c,data){
  polyline(g,c,data,'#000',8,null,'observed-profile');
  polyline(g,c,data,C.orange,2.5,null,'model-total-fit');
}
function squares(g,c,r,data,fy,color,size,name){
  data.forEach(d=>{
    const s = mk('rect', marksG, name, false);
    s.setAttribute('x',(X(c,d[0])-size/2).toFixed(1));
    s.setAttribute('y',(fy(g,d[1])-size/2).toFixed(1));
    s.setAttribute('width',size); s.setAttribute('height',size);
    s.setAttribute('fill',color);
  });
}
const DASH = {dash:"12,7", dashdot:"12,5,2,5", dot:"2,5", dashdotdot:"8,4,2,4,2,4"};

polyline(0,0,nuc2273,C.green,2,DASH.dot,'nucleus-component');
polyline(0,0,bulge2273,C.red,2,DASH.dash,'bulge-component');
polyline(0,0,bar2273,C.orange,2,DASH.dashdot,'bar-component');
polyline(0,0,ring2273,C.purple,2.5,DASH.dashdot,'ring-component');
polyline(0,0,disk2273,C.blue,2.5,DASH.dashdot,'disk-component');
profile(0,0,prof2273);

polyline(0,1,nuc2403,C.green,2.5,DASH.dashdot,'nucleus-component');
polyline(0,1,bulge2403,C.red,2.5,DASH.dash,'bulge-component');
polyline(0,1,disk2403,C.blue,2.5,DASH.dot,'disk-component');
profile(0,1,prof2403);

polyline(0,2,nuc2500,C.green,2,DASH.dashdot,'nucleus-component');
polyline(0,2,bulge2500,C.red,2,DASH.dash,'bulge-component');
polyline(0,2,disk2500,C.blue,2.5,DASH.dot,'disk-component');
polyline(0,2,arm2500,C.purple,2.5,DASH.dashdot,'spiral-arm-component');
profile(0,2,prof2500);

polyline(1,0,bar2537,C.orange,2,DASH.dash,'bar-component');
polyline(1,0,disk2537,C.blue,2.5,DASH.dot,'disk-component');
polyline(1,0,ring2537,C.purple,2.5,DASH.dashdot,'ring-component');
profile(1,0,prof2537);

polyline(1,1,bulge2541,C.red,2,DASH.dash,'bulge-component');
polyline(1,1,nuc2541,C.green,2,DASH.dashdotdot,'nucleus-component');
polyline(1,1,bar2541,C.orange,2.5,DASH.dashdot,'bar-component');
polyline(1,1,disk2541,C.blue,2.5,DASH.dot,'disk-component');
profile(1,1,prof2541);

polyline(1,2,bulge2549,C.red,2,DASH.dash,'bulge-component');
polyline(1,2,nuc2549,C.green,2,DASH.dashdotdot,'nucleus-component');
polyline(1,2,bar1_2549,C.orange,2.5,DASH.dashdot,'bar1-component');
polyline(1,2,disk2549,C.blue,2.5,DASH.dot,'disk-component');
polyline(1,2,bar2_2549,C.purple,2.5,DASH.dashdot,'bar2-component');
profile(1,2,prof2549);

const dmuSets = [dmu2273,dmu2403,dmu2500,dmu2537,dmu2541,dmu2549];
const ellSets = [ell2273,ell2403,ell2500,ell2537,ell2541,ell2549];
const paSets = [pa2273,pa2403,pa2500,pa2537,pa2541,pa2549];
const b4Sets = [b42273,b42403,b42500,b42537,b42541,b42549];
for(let i=0;i<6;i++){
  const g = Math.floor(i/3), c = i%3;
  squares(g,c,1,dmuSets[i],dmuY,'#000',4.6,'residual-point');
  squares(g,c,2,ellSets[i],ellY,C.red,6.5,'ellipticity-point');
  squares(g,c,3,paSets[i],paY,C.red,6.5,'pa-point');
  squares(g,c,4,b4Sets[i],b4Y,C.red,6.5,'b4-point');
  const nm = txt(labelsG,COLS[c]+296,g?780:37,galaxyNames[i],28,'end','galaxy-name');
  nm.setAttribute('textLength','132');
  nm.setAttribute('lengthAdjust','spacingAndGlyphs');
  const dl = txt(labelsG,COLS[c]+283,g?1100:357,'\u0394= '+deltaValues[i],28,'end','rms-delta-label');
  dl.setAttribute('textLength','132');
  dl.setAttribute('lengthAdjust','spacingAndGlyphs');
}

function legend(g,c,parts,len){
  const t = mk('text', labelsG, 'component-legend', false);
  t.setAttribute('x',COLS[c]+ (parts[0][0].startsWith('Disk')?12:1)); t.setAttribute('y',g?958:215);
  t.setAttribute('font-size',19); t.setAttribute('textLength',len); t.setAttribute('lengthAdjust','spacingAndGlyphs');
  parts.forEach(p=>{ const s=document.createElementNS(NS,'tspan'); s.setAttribute('fill',p[1]); s.textContent=p[0]; t.appendChild(s); });
}
legend(0,0,[["Bulge",C.red],["+SDis",C.blue],["+Bar",C.orange],["+SRing",C.purple],[" +Nucleus",C.green]],306);
legend(0,1,[["Bulge",C.red],["+Disk",C.blue],["+SNucleus",C.green]],204);
legend(0,2,[[" Bulge",C.red],["+Disk",C.blue],["+SSarm",C.purple],[" +SNucleus",C.green]],295);
legend(1,0,[["Disk",C.blue],["+Bar",C.orange],["+Ring",C.purple]],140);
legend(1,1,[["Bulge",C.red],["+Disk",C.blue],["+Bar",C.orange],["+Nucleus",C.green]],236);
legend(1,2,[["Bulge ",C.red],["+Disk",C.blue],["+Bar1",C.orange],["+Bar2",C.purple],["+Nuc.",C.green]],272);
</script>
</body></html>
